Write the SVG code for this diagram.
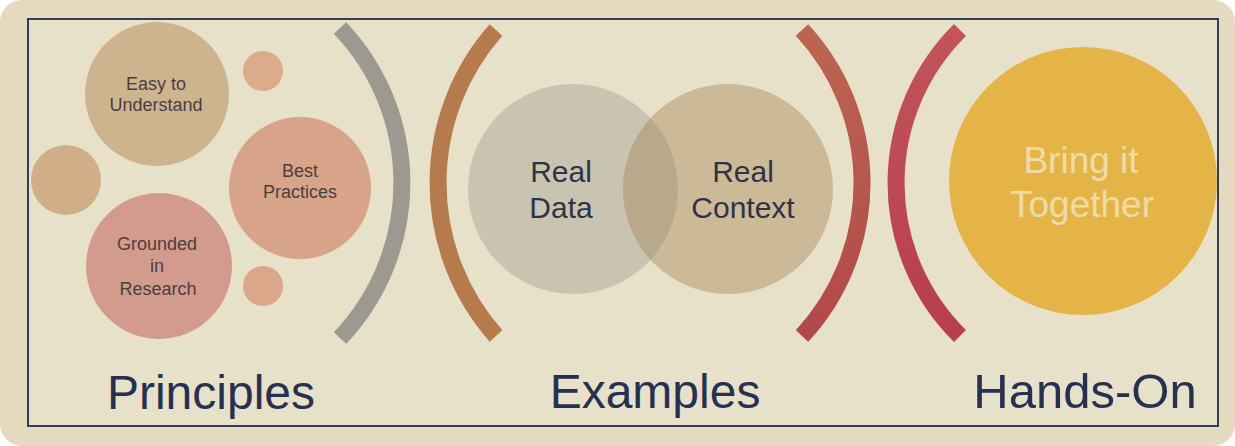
<svg xmlns="http://www.w3.org/2000/svg" width="1235" height="446" viewBox="0 0 1235 446">
  <style>
    .small { font-family: "Liberation Sans", Arial, sans-serif; font-size: 18px; fill: #4a3f40; text-anchor: middle; }
    .mid { font-family: "Liberation Sans", Arial, sans-serif; font-size: 30px; fill: #2f3345; text-anchor: middle; }
    .big { font-family: "Liberation Sans", Arial, sans-serif; font-size: 48px; fill: #263050; text-anchor: middle; }
    .bring { font-family: "Liberation Sans", Arial, sans-serif; font-size: 37px; fill: #eedca8; text-anchor: middle; }
    .arc { fill: none; stroke-width: 17; stroke-linecap: butt; }
  </style>
  <defs>
    <clipPath id="panel">
      <rect x="28" y="19" width="1190" height="407"/>
    </clipPath>
    <clipPath id="dataClip">
      <circle cx="573" cy="189" r="105"/>
    </clipPath>
    <linearGradient id="redArc" x1="0" y1="0" x2="0" y2="1">
      <stop offset="0" stop-color="#bb6650"/>
      <stop offset="1" stop-color="#b2484a"/>
    </linearGradient>
    <linearGradient id="crimsonArc" x1="0" y1="0" x2="0" y2="1">
      <stop offset="0" stop-color="#c2545a"/>
      <stop offset="1" stop-color="#b83e4e"/>
    </linearGradient>
  </defs>

  <rect x="0" y="0" width="1235" height="446" rx="22" fill="#e3dac0"/>
  <rect x="28" y="19" width="1190" height="407" fill="#e8e1c9"/>

  <g clip-path="url(#panel)">
    <g id="brackets">
      <path class="arc" d="M 340 28 A 225 225 0 0 1 340 338" stroke="#9b9990"/>
      <path class="arc" d="M 496 30 A 231 231 0 0 0 496 336" stroke="#b67b4d"/>
      <path class="arc" d="M 802 30 A 225 225 0 0 1 802 336" stroke="url(#redArc)"/>
      <path class="arc" d="M 960 30 A 215 215 0 0 0 960 336" stroke="url(#crimsonArc)"/>
    </g>

    <g id="easy-to-understand">
      <circle cx="157" cy="94" r="72" fill="#cdb48f"/>
      <text class="small" x="156" y="90">Easy to</text>
      <text class="small" x="156" y="111">Understand</text>
    </g>
    <g id="small-top">
      <circle cx="263" cy="71" r="20" fill="#dcab8b"/>
    </g>
    <g id="left-mid">
      <circle cx="66" cy="180" r="35" fill="#d0ae88"/>
    </g>
    <g id="best-practices">
      <circle cx="300" cy="188" r="71" fill="#d7a389"/>
      <text class="small" x="300" y="177">Best</text>
      <text class="small" x="300" y="198">Practices</text>
    </g>
    <g id="grounded-in-research">
      <circle cx="159" cy="266" r="73" fill="#d39b8e"/>
      <text class="small" x="157" y="250">Grounded</text>
      <text class="small" x="157" y="272">in</text>
      <text class="small" x="158" y="295">Research</text>
    </g>
    <g id="small-bottom">
      <circle cx="263" cy="286" r="20" fill="#dba78b"/>
    </g>

    <g id="real-data">
      <circle cx="573" cy="189" r="105" fill="#c9c4b2"/>
    </g>
    <g id="real-context">
      <circle cx="728" cy="189" r="105" fill="#cbb998"/>
      <circle cx="728" cy="189" r="105" fill="#b8a98b" clip-path="url(#dataClip)"/>
      <text class="mid" x="743" y="182">Real</text>
      <text class="mid" x="743" y="218">Context</text>
    </g>
    <g id="real-data-label">
      <text class="mid" x="561" y="182">Real</text>
      <text class="mid" x="561" y="218">Data</text>
    </g>

    <g id="bring-it-together">
      <circle cx="1083" cy="181" r="134" fill="#e5b447"/>
      <text class="bring" x="1081" y="173">Bring it</text>
      <text class="bring" x="1082" y="217">Together</text>
    </g>

    <g id="labels">
      <text class="big" x="211" y="409">Principles</text>
      <text class="big" x="655" y="408">Examples</text>
      <text class="big" x="1085" y="408" style="font-size:49px">Hands-On</text>
    </g>
  </g>

  <rect x="28" y="19" width="1190" height="407" fill="none" stroke="#343c58" stroke-width="2"/>
</svg>
